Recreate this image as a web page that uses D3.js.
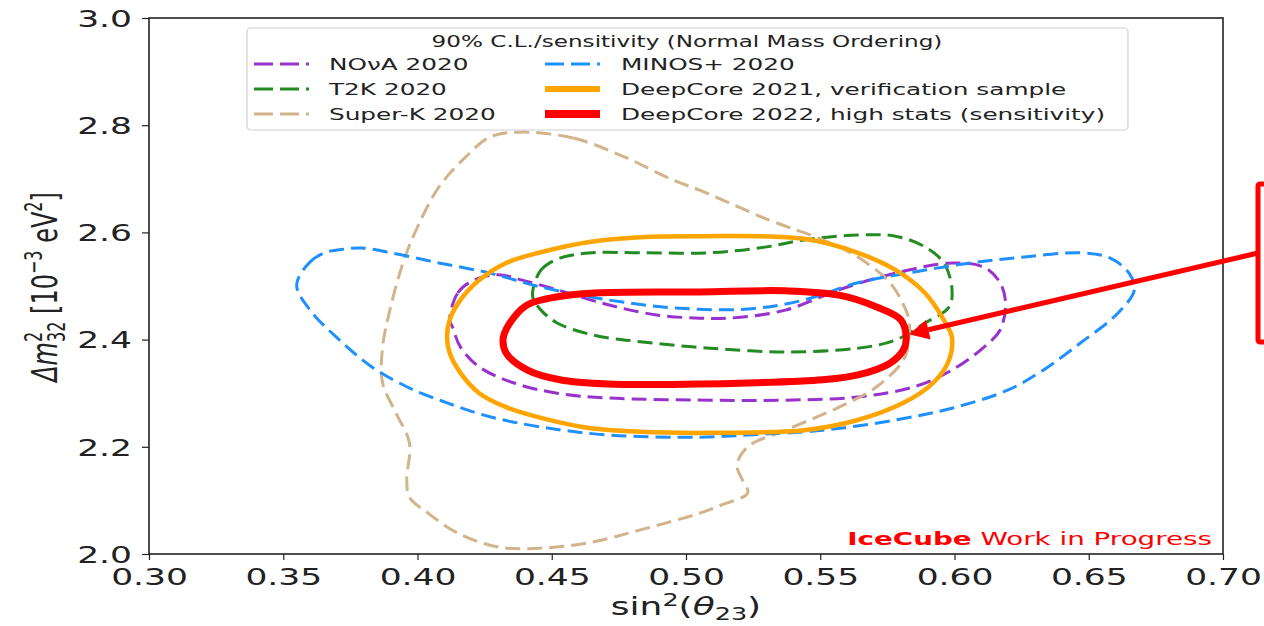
<!DOCTYPE html>
<html>
<head>
<meta charset="utf-8">
<script src="https://cdn.jsdelivr.net/npm/d3@7"></script>
<style>
  html, body { margin: 0; padding: 0; background: #fff; }
  svg { display: block; font-family: "DejaVu Sans", sans-serif; }
</style>
</head>
<body>
<svg id="chart" width="1264" height="626"></svg>
<script>
// ---- axis ticks ----
const xTicks = [0.30, 0.35, 0.40, 0.45, 0.50, 0.55, 0.60, 0.65, 0.70];
const yTicks = [2.0, 2.2, 2.4, 2.6, 2.8, 3.0];

// ---- 90% C.L. contours: [sin^2(theta23), dm^2_32 (1e-3 eV^2)] ----
const novaContour = [
  [0.412,2.437],[0.415,2.487],[0.421,2.511],[0.430,2.521],[0.439,2.511],[0.452,2.493],
  [0.471,2.465],[0.489,2.446],[0.505,2.440],[0.516,2.440],[0.537,2.455],[0.557,2.493],
  [0.578,2.524],[0.599,2.543],[0.611,2.535],[0.617,2.506],[0.619,2.468],[0.617,2.418],
  [0.611,2.386],[0.599,2.343],[0.585,2.312],[0.564,2.293],[0.537,2.287],[0.509,2.287],
  [0.471,2.291],[0.452,2.300],[0.436,2.319],[0.423,2.349],[0.416,2.386],[0.413,2.424]
];
const t2kContour = [
  [0.443,2.493],[0.446,2.530],[0.453,2.552],[0.465,2.562],[0.483,2.562],[0.509,2.562],
  [0.530,2.573],[0.544,2.586],[0.564,2.595],[0.578,2.593],[0.589,2.573],[0.596,2.543],
  [0.599,2.498],[0.598,2.461],[0.589,2.431],[0.578,2.399],[0.564,2.384],[0.537,2.377],
  [0.509,2.384],[0.483,2.396],[0.465,2.409],[0.452,2.431],[0.446,2.455],[0.443,2.478]
];
const superkContour = [
  [0.438,2.787],[0.458,2.776],[0.477,2.741],[0.495,2.698],[0.505,2.679],[0.531,2.623],
  [0.551,2.586],[0.564,2.554],[0.576,2.506],[0.581,2.465],[0.583,2.437],[0.583,2.399],
  [0.581,2.362],[0.571,2.312],[0.557,2.274],[0.537,2.231],[0.523,2.200],[0.519,2.166],
  [0.521,2.138],[0.523,2.114],[0.513,2.091],[0.505,2.076],[0.483,2.045],[0.464,2.021],
  [0.446,2.011],[0.430,2.013],[0.415,2.039],[0.404,2.076],[0.397,2.106],[0.396,2.138],
  [0.397,2.207],[0.392,2.263],[0.387,2.319],[0.387,2.386],[0.390,2.461],[0.395,2.549],
  [0.400,2.610],[0.408,2.685],[0.418,2.741],[0.427,2.778]
];
const minosContour = [
  [0.355,2.502],[0.360,2.545],[0.366,2.563],[0.373,2.569],[0.379,2.571],[0.390,2.562],
  [0.408,2.543],[0.427,2.524],[0.446,2.498],[0.471,2.474],[0.496,2.459],[0.523,2.457],
  [0.544,2.474],[0.564,2.506],[0.585,2.526],[0.606,2.543],[0.626,2.554],[0.647,2.562],
  [0.658,2.552],[0.665,2.524],[0.667,2.493],[0.661,2.450],[0.647,2.394],[0.633,2.343],
  [0.620,2.306],[0.599,2.272],[0.578,2.250],[0.551,2.231],[0.523,2.222],[0.505,2.218],
  [0.471,2.222],[0.446,2.237],[0.427,2.256],[0.411,2.282],[0.396,2.312],[0.383,2.349],
  [0.371,2.399],[0.360,2.455]
];
const dc2021Contour = [
  [0.411,2.405],[0.412,2.437],[0.416,2.474],[0.423,2.511],[0.433,2.543],[0.446,2.563],
  [0.464,2.582],[0.483,2.591],[0.505,2.593],[0.544,2.588],[0.564,2.562],[0.578,2.530],
  [0.589,2.487],[0.596,2.437],[0.599,2.405],[0.598,2.362],[0.592,2.319],[0.581,2.282],
  [0.564,2.250],[0.544,2.231],[0.509,2.226],[0.483,2.228],[0.464,2.235],[0.446,2.254],
  [0.433,2.274],[0.423,2.300],[0.416,2.338],[0.412,2.375]
];
const dc2022Contour = [
  [0.432,2.405],[0.436,2.442],[0.441,2.465],[0.451,2.479],[0.466,2.487],[0.505,2.489],
  [0.537,2.491],[0.557,2.483],[0.571,2.461],[0.580,2.437],[0.582,2.405],[0.581,2.381],
  [0.576,2.356],[0.564,2.334],[0.551,2.325],[0.523,2.319],[0.505,2.317],[0.471,2.317],
  [0.453,2.325],[0.441,2.343],[0.433,2.375]
];

// ---- legend ----
const legendTitle = "90% C.L./sensitivity (Normal Mass Ordering)";
const seriesLabels = ["NO\u03bdA 2020", "T2K 2020", "Super-K 2020",
                      "MINOS+ 2020", "DeepCore 2021, verification sample",
                      "DeepCore 2022, high stats (sensitivity)"];
const seriesData = [novaContour, t2kContour, superkContour,
                    minosContour, dc2021Contour, dc2022Contour];
const seriesColors = ["#9932cc", "#228b22", "#d2b48c", "#1e90ff", "#ffa500", "#ff0000"];
const seriesDashed = [true, true, true, true, false, false];
const seriesWidths = [3, 3, 3, 3, 4.5, 7];
const legendWidths = [3, 3, 3, 3, 6, 8];

// marker on the DeepCore 2022 contour
const arrowTarget = [0.583, 2.41];

// ---- layout ----
const SX = 1.5;               // horizontal glyph stretch used by every label
const W = 1264, H = 626;
const plot = { left: 149, right: 1223, top: 18, bottom: 554 };

const svg = d3.select("#chart");
svg.append("rect").attr("width", W).attr("height", H).attr("fill", "#fff");

const x = d3.scaleLinear().domain([0.30, 0.70]).range([plot.left, plot.right]);
const y = d3.scaleLinear().domain([2.0, 3.0]).range([plot.bottom, plot.top]);

// ---- contours ----
const line = d3.line()
  .x(d => x(d[0])).y(d => y(d[1]))
  .curve(d3.curveCatmullRomClosed.alpha(0.5));

const contourG = svg.append("g");
seriesData.forEach((pts, i) => {
  contourG.append("path")
    .attr("d", line(pts))
    .attr("fill", "none")
    .attr("stroke", seriesColors[i])
    .attr("stroke-width", seriesWidths[i])
    .attr("stroke-dasharray", seriesDashed[i] ? "15,7" : null)
    .attr("stroke-linejoin", "round")
    .attr("stroke-linecap", seriesDashed[i] ? "butt" : "round");
});

// ---- axes ----
const xAxis = d3.axisBottom(x).tickValues(xTicks).tickFormat(d3.format(".2f"))
  .tickSize(6).tickSizeOuter(0);
const gx = svg.append("g").attr("transform", `translate(0,${plot.bottom})`).call(xAxis);
gx.select(".domain").remove();
gx.selectAll(".tick line").attr("stroke", "#222").attr("stroke-width", 1.2);
gx.selectAll(".tick text")
  .attr("font-family", "DejaVu Sans").attr("font-size", 23).attr("fill", "#222")
  .attr("y", 31).attr("dy", null)
  .attr("transform", `scale(${SX},1)`);

const yAxis = d3.axisLeft(y).tickValues(yTicks).tickFormat(d3.format(".1f"))
  .tickSize(7).tickSizeOuter(0);
const gy = svg.append("g").attr("transform", `translate(${plot.left},0)`).call(yAxis);
gy.select(".domain").remove();
gy.selectAll(".tick line").attr("stroke", "#222").attr("stroke-width", 1.2);
gy.selectAll(".tick text")
  .attr("font-family", "DejaVu Sans").attr("font-size", 23).attr("fill", "#222")
  .attr("x", -17 / SX).attr("dy", "0.36em")
  .attr("transform", `scale(${SX},1)`);

// frame
svg.append("rect")
  .attr("x", plot.left).attr("y", plot.top)
  .attr("width", plot.right - plot.left).attr("height", plot.bottom - plot.top)
  .attr("fill", "none").attr("stroke", "#222").attr("stroke-width", 1.6);

// x label: sin^2(theta_23)
const xl = svg.append("text")
  .attr("transform", `translate(${(plot.left + plot.right) / 2},615) scale(${SX},1)`)
  .attr("text-anchor", "middle").attr("font-size", 24).attr("fill", "#222");
xl.append("tspan").text("sin");
xl.append("tspan").attr("font-size", 17).attr("dy", -9).text("2");
xl.append("tspan").attr("dy", 9).text("(");
xl.append("tspan").attr("font-style", "italic").text("\u03b8");
xl.append("tspan").attr("font-size", 17).attr("dy", 5).text("23");
xl.append("tspan").attr("dy", -5).text(")");

// y label: dm^2_32 [10^-3 eV^2]
const yl = svg.append("text")
  .attr("transform", `translate(57,287) rotate(-90) scale(1,${SX})`)
  .attr("text-anchor", "middle").attr("font-size", 24).attr("fill", "#222");
yl.append("tspan").attr("font-style", "italic").text("\u0394m");
yl.append("tspan").attr("font-size", 16).attr("dy", -10).text("2");
yl.append("tspan").attr("font-size", 16).attr("dx", -10).attr("dy", 15).text("32");
yl.append("tspan").attr("dy", -5).text(" [10");
yl.append("tspan").attr("font-size", 16).attr("dy", -10).text("\u22123");
yl.append("tspan").attr("dy", 10).text(" eV");
yl.append("tspan").attr("font-size", 16).attr("dy", -10).text("2");
yl.append("tspan").attr("dy", 10).text("]");

// ---- legend ----
const lg = svg.append("g");
lg.append("rect")
  .attr("x", 247).attr("y", 28).attr("width", 881).attr("height", 102)
  .attr("rx", 4).attr("fill", "#fff").attr("fill-opacity", 0.85)
  .attr("stroke", "#d0d0d0").attr("stroke-width", 1.2);
lg.append("text")
  .attr("transform", `translate(687,47) scale(${SX},1)`)
  .attr("text-anchor", "middle").attr("font-size", 15.4).attr("fill", "#222")
  .text(legendTitle);

const colX = [254, 545];
const textX = [329, 621];
const rowY = [64, 89, 114];
seriesLabels.forEach((lab, i) => {
  const c = Math.floor(i / 3), r = i % 3;
  lg.append("line")
    .attr("x1", colX[c]).attr("x2", colX[c] + 55)
    .attr("y1", rowY[r]).attr("y2", rowY[r])
    .attr("stroke", seriesColors[i]).attr("stroke-width", legendWidths[i])
    .attr("stroke-dasharray", seriesDashed[i] ? "19,7" : null);
  lg.append("text")
    .attr("transform", `translate(${textX[c]},${rowY[r] + 6}) scale(${SX},1)`)
    .attr("font-size", 16.5).attr("fill", "#222")
    .text(lab);
});

// ---- watermark ----
const wm = svg.append("text")
  .attr("transform", `translate(1212,545) scale(${SX},1)`)
  .attr("text-anchor", "end").attr("font-size", 18.5).attr("fill", "#ff0000");
wm.append("tspan").attr("font-weight", "bold").text("IceCube");
wm.append("tspan").text(" Work in Progress");

// ---- callout box and arrow ----
const ann = svg.append("g");
ann.append("rect")
  .attr("x", 1258).attr("y", 184).attr("width", 40).attr("height", 158)
  .attr("rx", 2).attr("fill", "none").attr("stroke", "#ff0000").attr("stroke-width", 5);

const tip = [x(arrowTarget[0]), y(arrowTarget[1])];
const start = [1258, 253];
const dx = start[0] - tip[0], dy = start[1] - tip[1];
const len = Math.hypot(dx, dy), ux = dx / len, uy = dy / len;
const headLen = 20, headHalf = 10;
const base = [tip[0] + ux * headLen, tip[1] + uy * headLen];
ann.append("line")
  .attr("x1", start[0]).attr("y1", start[1])
  .attr("x2", base[0]).attr("y2", base[1])
  .attr("stroke", "#ff0000").attr("stroke-width", 5);
ann.append("path")
  .attr("d", `M${tip[0]},${tip[1]}L${base[0] - uy * headHalf},${base[1] + ux * headHalf}` +
             `L${base[0] + uy * headHalf},${base[1] - ux * headHalf}Z`)
  .attr("fill", "#ff0000");
</script>
</body>
</html>
